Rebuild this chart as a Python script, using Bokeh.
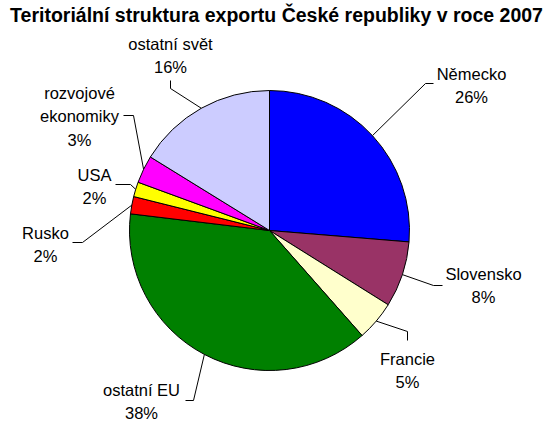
import math
from bokeh.plotting import figure
from bokeh.models import Range1d
from bokeh.embed import file_html
from bokeh.resources import INLINE
from bokeh.core.properties import value

# ---- data ----
categories = ["Německo", "Slovensko", "Francie", "ostatní EU", "Rusko", "USA",
              "rozvojové ekonomiky", "ostatní svět"]
shares = [26.3, 7.6, 4.6, 38.4, 2.0, 1.7, 3.2, 16.2]
pct_labels = ["26%", "8%", "5%", "38%", "2%", "2%", "3%", "16%"]
label_lines = [["Německo"], ["Slovensko"], ["Francie"], ["ostatní EU"], ["Rusko"],
               ["USA"], ["rozvojové", "ekonomiky"], ["ostatní svět"]]
colors = ["#0000FF", "#993366", "#FFFFCC", "#008000", "#FF0000", "#FFFF00",
          "#FF00FF", "#CCCCFF"]
chart_title = "Teritoriální struktura exportu České republiky v roce 2007"

# ---- layout (screen pixels of the page) ----
W, H = 550, 431
CX, CY, R = 269, 230, 140
FONT = "Liberation Sans"
label_pos = [(471, 73), (483, 273), (407, 358), (141, 389), (45, 232),
             (94, 174), (79, 92), (170, 43)]
line_step = 23.5
leader_pts = [((425, 83), (433, 83)), ((433, 285), (442, 285)),
              ((407, 331), (407, 340)), ((193, 400), (185, 400)),
              ((82, 242), (72, 242)), ((130, 184), (115, 184)),
              ((133, 115), (123, 115)), ((170, 88), (170, 80))]


def X(px):
    return px


def Y(py):
    return H - py


p = figure(width=W, height=H, output_backend="svg", toolbar_location=None,
           x_range=Range1d(0, W), y_range=Range1d(0, H), min_border=0)
p.axis.visible = False
p.grid.visible = False
p.outline_line_color = None
p.background_fill_color = "white"
p.border_fill_color = "white"

total = sum(shares)
cum = 0.0
starts, ends, mids = [], [], []
for s in shares:
    a0 = math.pi / 2 - 2 * math.pi * cum / total
    cum += s
    a1 = math.pi / 2 - 2 * math.pi * cum / total
    starts.append(a0)
    ends.append(a1)
    mids.append((a0 + a1) / 2)

p.wedge(x=[X(CX)] * len(shares), y=[Y(CY)] * len(shares), radius=R,
        radius_units="screen", start_angle=starts, end_angle=ends,
        direction="clock", fill_color=colors, line_color="black", line_width=1)

for m, (elb, end) in zip(mids, leader_pts):
    sx = CX + R * math.cos(m)
    sy = CY - R * math.sin(m)
    p.line(x=[X(sx), X(elb[0]), X(end[0])], y=[Y(sy), Y(elb[1]), Y(end[1])],
           line_color="black", line_width=1)

xs, ys, txt = [], [], []
for lines, pct, (lx, ly) in zip(label_lines, pct_labels, label_pos):
    all_lines = lines + [pct]
    for i, t in enumerate(all_lines):
        xs.append(X(lx))
        ys.append(Y(ly + i * line_step))
        txt.append(t)
p.text(x=xs, y=ys, text=txt, text_font=value(FONT), text_font_size="16.5px",
       text_align="center", text_baseline="middle", text_color="black")

p.text(x=[X(276)], y=[Y(14)], text=[chart_title], text_font=value(FONT),
       text_font_size="19.5px", text_font_style="bold", text_align="center",
       text_baseline="middle", text_color="black")

open("out.html", "w").write(file_html(p, INLINE))
